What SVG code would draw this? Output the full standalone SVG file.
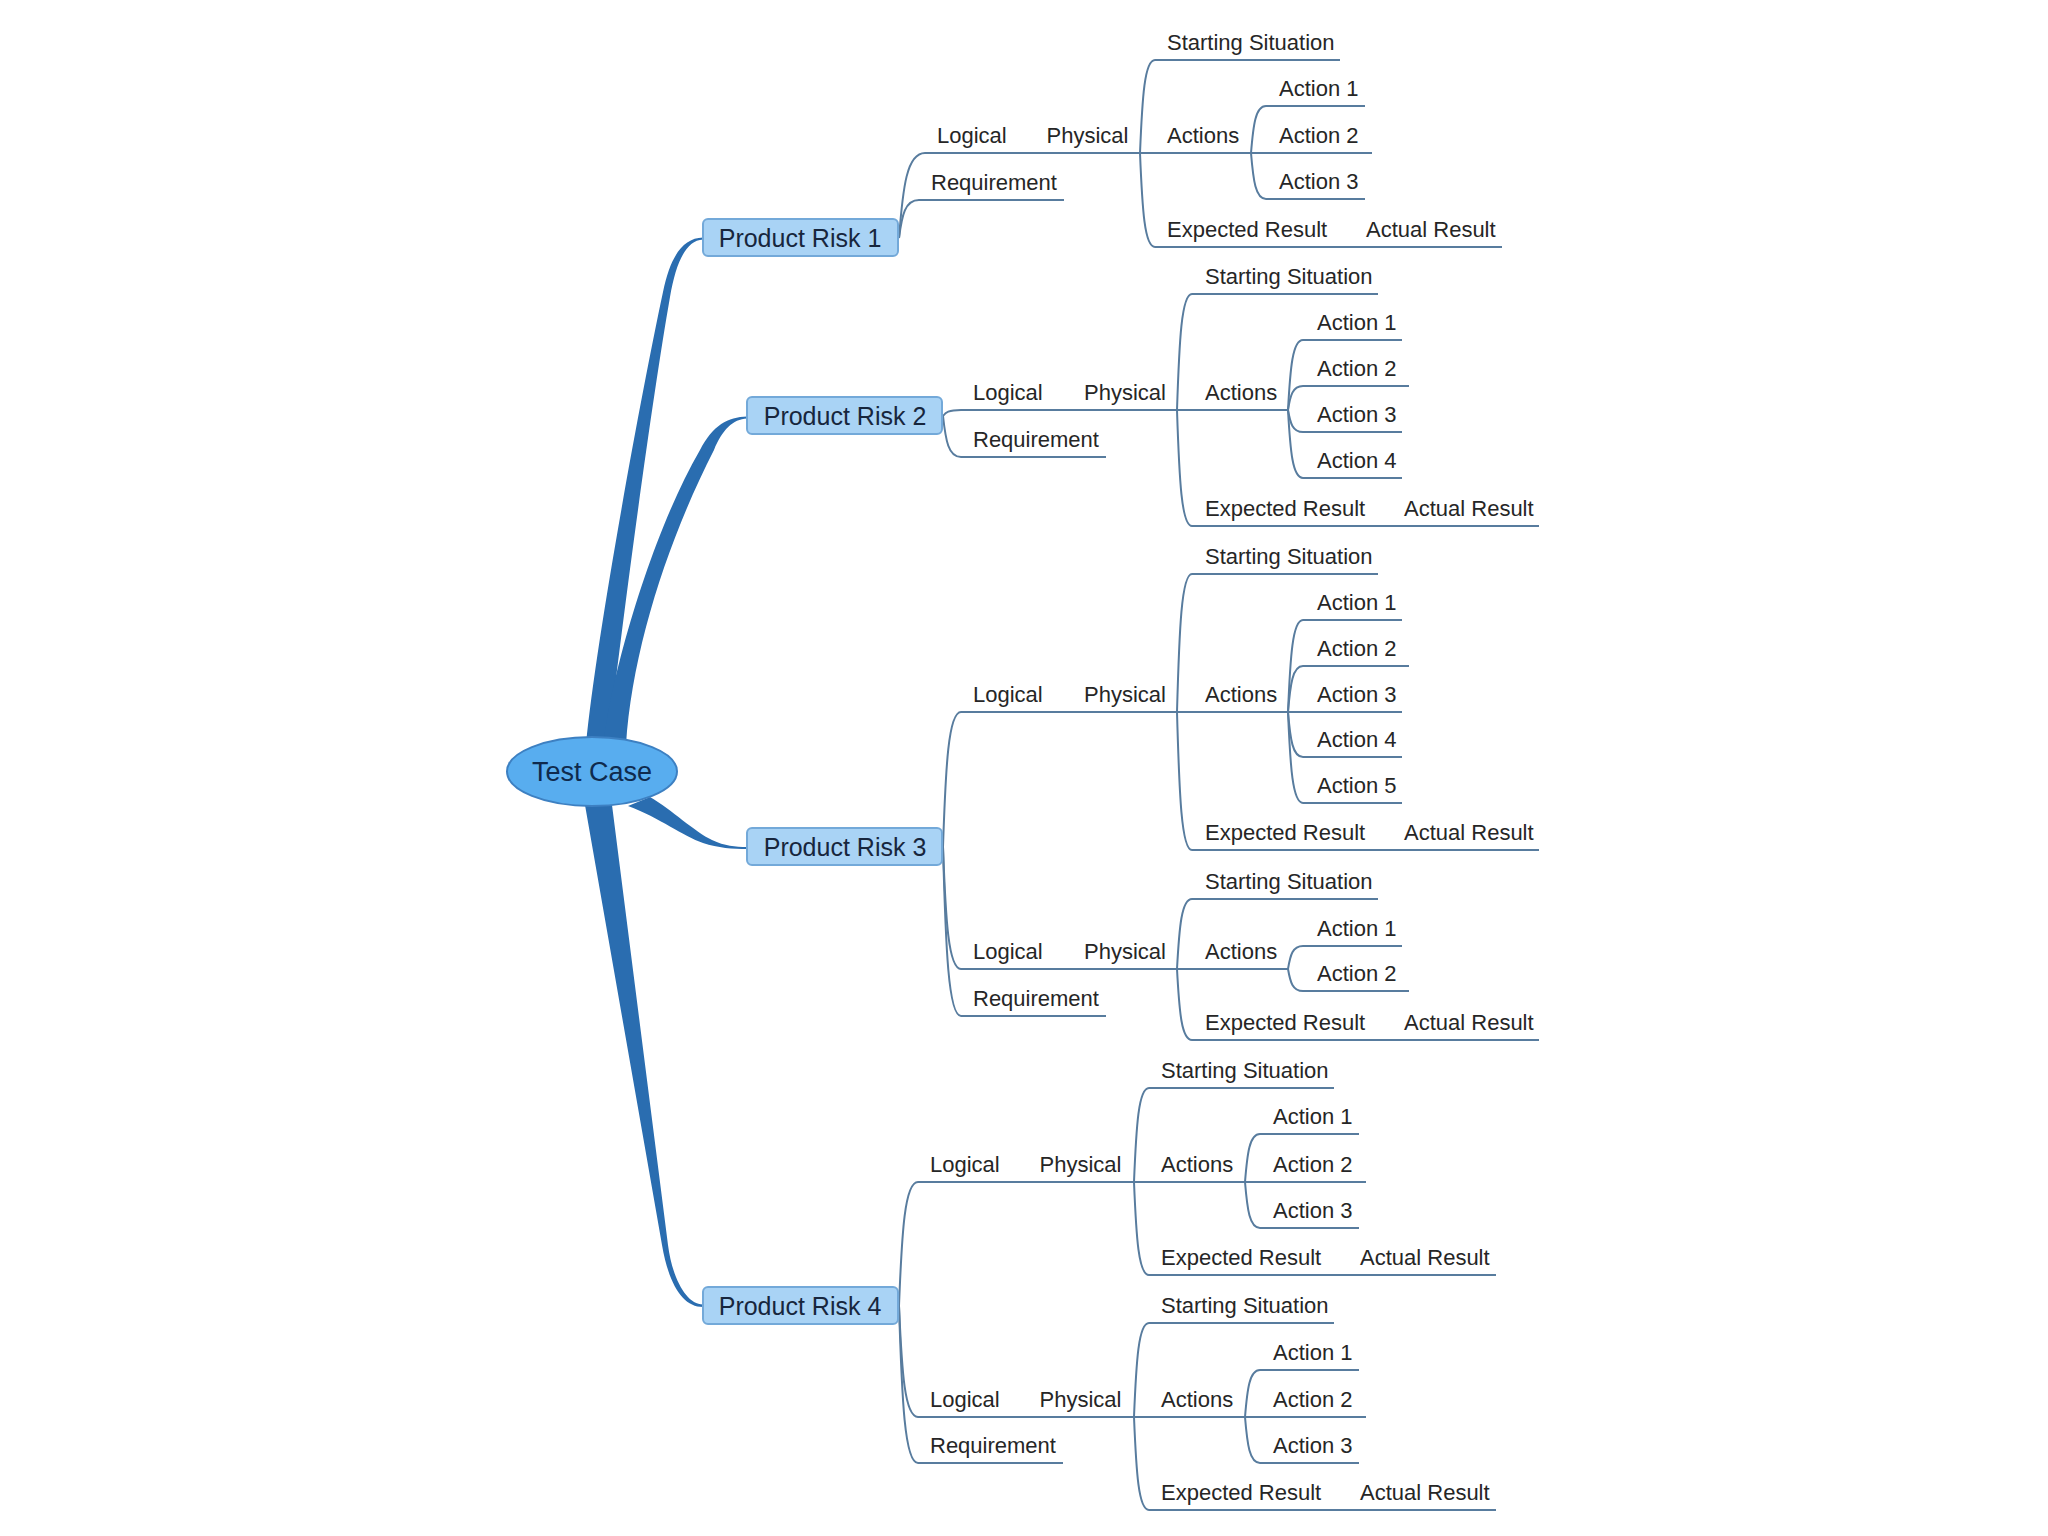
<svg xmlns="http://www.w3.org/2000/svg" width="2048" height="1536" viewBox="0 0 2048 1536">
<style>
.lbl{font-family:"Liberation Sans",Arial,Helvetica,sans-serif;font-size:22px;fill:#262626}
.ul{stroke:#587c9e;stroke-width:2;fill:none}
.cn{stroke:#587c9e;stroke-width:2;fill:none}
.br{fill:#2a6db0;stroke:none}
.box{fill:#a9d3f5;stroke:#73a9d9;stroke-width:2}
.boxt{font-family:"Liberation Sans",Arial,Helvetica,sans-serif;font-size:25px;fill:#17263d;text-anchor:middle}
.root{fill:#58adef;stroke:#3d80c2;stroke-width:2}
.roott{font-family:"Liberation Sans",Arial,Helvetica,sans-serif;font-size:27px;fill:#0f2a4d;text-anchor:middle}
</style>
<rect width="2048" height="1536" fill="#ffffff"/>
<g id="connectors">
  <g id="main-branches">
    <path class="br" d="M586 745 C596 640 640 400 663 292 C670 258 682 238 703 237.5 L703 239.5 C686 240.5 676 262 670 297 C652 400 625 600 608 745 Z"/>
    <path class="br" d="M604 745 C606 700 645 545 700 450 C713 425 728 417 747 416.5 L747 418.5 C733 419 722 430 714 450 C668 540 632 650 626 745 Z"/>
    <path class="br" d="M650 797 C672 810 695 832 712 840 C725 846 735 847 747 847 L747 849 C733 849 718 848 703 843 C683 836 660 818 628 806 Z"/>
    <path class="br" d="M585 805 L662 1245 C669 1285 683 1307 703 1307 L703 1304.5 C686 1304.5 672 1277 668 1245 L612 805 Z"/>
  </g>
  <g id="pr1-links">
    <path class="cn" d="M899 238 C902.9 187 906.8 153 925 153"/>
    <path class="cn" d="M899 238 C902 215.2 905 200 919 200"/>
    <path class="cn" d="M1140 153 C1142.3 97.2 1144.5 60 1155 60"/>
    <path class="cn" d="M1140 153 C1142.3 209.4 1144.5 247 1155 247"/>
    <path class="cn" d="M1251 153 C1253.3 124.8 1255.5 106 1266 106"/>
    <path class="cn" d="M1251 153 C1253.3 180.6 1255.5 199 1266 199"/>
  </g>
  <g id="pr2-links">
    <path class="cn" d="M943 416 C945.7 412.4 948.4 410 961 410"/>
    <path class="cn" d="M943 416 C945.7 440.6 948.4 457 961 457"/>
    <path class="cn" d="M1177 410 C1179.3 340.4 1181.5 294 1192 294"/>
    <path class="cn" d="M1177 410 C1179.3 479.6 1181.5 526 1192 526"/>
    <path class="cn" d="M1288 410 C1290.3 368 1292.5 340 1303 340"/>
    <path class="cn" d="M1288 410 C1290.3 395.6 1292.5 386 1303 386"/>
    <path class="cn" d="M1288 410 C1290.3 423.2 1292.5 432 1303 432"/>
    <path class="cn" d="M1288 410 C1290.3 450.8 1292.5 478 1303 478"/>
  </g>
  <g id="pr3-links">
    <path class="cn" d="M943 847 C945.7 766 948.4 712 961 712"/>
    <path class="cn" d="M943 847 C945.7 920.2 948.4 969 961 969"/>
    <path class="cn" d="M943 847 C945.7 948.4 948.4 1016 961 1016"/>
    <path class="cn" d="M1177 712 C1179.3 629.2 1181.5 574 1192 574"/>
    <path class="cn" d="M1177 712 C1179.3 794.8 1181.5 850 1192 850"/>
    <path class="cn" d="M1288 712 C1290.3 656.8 1292.5 620 1303 620"/>
    <path class="cn" d="M1288 712 C1290.3 684.4 1292.5 666 1303 666"/>
    <path class="cn" d="M1288 712 C1290.3 739 1292.5 757 1303 757"/>
    <path class="cn" d="M1288 712 C1290.3 766.6 1292.5 803 1303 803"/>
    <path class="cn" d="M1177 969 C1179.3 927 1181.5 899 1192 899"/>
    <path class="cn" d="M1177 969 C1179.3 1011.6 1181.5 1040 1192 1040"/>
    <path class="cn" d="M1288 969 C1290.3 955.2 1292.5 946 1303 946"/>
    <path class="cn" d="M1288 969 C1290.3 982.2 1292.5 991 1303 991"/>
  </g>
  <g id="pr4-links">
    <path class="cn" d="M899 1306 C901.9 1231.6 904.7 1182 918 1182"/>
    <path class="cn" d="M899 1306 C901.9 1372.6 904.7 1417 918 1417"/>
    <path class="cn" d="M899 1306 C901.9 1400.2 904.7 1463 918 1463"/>
    <path class="cn" d="M1134 1182 C1136.3 1125.6 1138.5 1088 1149 1088"/>
    <path class="cn" d="M1134 1182 C1136.3 1237.8 1138.5 1275 1149 1275"/>
    <path class="cn" d="M1245 1182 C1247.3 1153.2 1249.5 1134 1260 1134"/>
    <path class="cn" d="M1245 1182 C1247.3 1209.6 1249.5 1228 1260 1228"/>
    <path class="cn" d="M1134 1417 C1136.3 1360.6 1138.5 1323 1149 1323"/>
    <path class="cn" d="M1134 1417 C1136.3 1472.8 1138.5 1510 1149 1510"/>
    <path class="cn" d="M1245 1417 C1247.3 1388.8 1249.5 1370 1260 1370"/>
    <path class="cn" d="M1245 1417 C1247.3 1444.6 1249.5 1463 1260 1463"/>
  </g>
</g>

<g id="test-case"><ellipse class="root" cx="592" cy="771.5" rx="85" ry="34.5"/><text class="roott" x="592" y="781">Test Case</text></g>

<g id="product-risk-1"><rect class="box" x="703" y="219" width="195" height="37" rx="5"/><text class="boxt" x="800" y="246.5">Product Risk 1</text></g>
<g id="product-risk-2"><rect class="box" x="747" y="397" width="195" height="37" rx="5"/><text class="boxt" x="845" y="424.5">Product Risk 2</text></g>
<g id="product-risk-3"><rect class="box" x="747" y="828" width="195" height="37" rx="5"/><text class="boxt" x="845" y="855.5">Product Risk 3</text></g>
<g id="product-risk-4"><rect class="box" x="703" y="1287" width="195" height="37" rx="5"/><text class="boxt" x="800" y="1314.5">Product Risk 4</text></g>

<!-- PR1 -->
<g id="pr1-logical"><text class="lbl" x="937" y="143">Logical</text><path class="ul" d="M925 153 H1035"/></g>
<g id="pr1-physical"><text class="lbl" x="1046.5" y="143">Physical</text><path class="ul" d="M1035 153 H1140"/></g>
<g id="pr1-starting"><text class="lbl" x="1167" y="50">Starting Situation</text><path class="ul" d="M1155 60 H1340"/></g>
<g id="pr1-actions"><text class="lbl" x="1167" y="143">Actions</text><path class="ul" d="M1140 153 H1251"/></g>
<g id="pr1-action1"><text class="lbl" x="1279" y="96">Action 1</text><path class="ul" d="M1266 106 H1365"/></g>
<g id="pr1-action2"><text class="lbl" x="1279" y="143">Action 2</text><path class="ul" d="M1251 153 H1372"/></g>
<g id="pr1-action3"><text class="lbl" x="1279" y="189">Action 3</text><path class="ul" d="M1266 199 H1365"/></g>
<g id="pr1-expected"><text class="lbl" x="1167" y="237">Expected Result</text><path class="ul" d="M1155 247 H1352"/></g>
<g id="pr1-actual"><text class="lbl" x="1366" y="237">Actual Result</text><path class="ul" d="M1352 247 H1502"/></g>
<g id="pr1-requirement"><text class="lbl" x="931" y="190">Requirement</text><path class="ul" d="M919 200 H1064"/></g>

<!-- PR2 -->
<g id="pr2-logical"><text class="lbl" x="973" y="400">Logical</text><path class="ul" d="M961 410 H1071"/></g>
<g id="pr2-physical"><text class="lbl" x="1084" y="400">Physical</text><path class="ul" d="M1071 410 H1177"/></g>
<g id="pr2-starting"><text class="lbl" x="1205" y="284">Starting Situation</text><path class="ul" d="M1192 294 H1378"/></g>
<g id="pr2-actions"><text class="lbl" x="1205" y="400">Actions</text><path class="ul" d="M1177 410 H1288"/></g>
<g id="pr2-action1"><text class="lbl" x="1317" y="330">Action 1</text><path class="ul" d="M1303 340 H1402"/></g>
<g id="pr2-action2"><text class="lbl" x="1317" y="376">Action 2</text><path class="ul" d="M1303 386 H1409"/></g>
<g id="pr2-action3"><text class="lbl" x="1317" y="422">Action 3</text><path class="ul" d="M1303 432 H1402"/></g>
<g id="pr2-action4"><text class="lbl" x="1317" y="468">Action 4</text><path class="ul" d="M1303 478 H1402"/></g>
<g id="pr2-expected"><text class="lbl" x="1205" y="516">Expected Result</text><path class="ul" d="M1192 526 H1390"/></g>
<g id="pr2-actual"><text class="lbl" x="1404" y="516">Actual Result</text><path class="ul" d="M1390 526 H1539"/></g>
<g id="pr2-requirement"><text class="lbl" x="973" y="447">Requirement</text><path class="ul" d="M961 457 H1106"/></g>

<!-- PR3 a -->
<g id="pr3a-logical"><text class="lbl" x="973" y="702">Logical</text><path class="ul" d="M961 712 H1071"/></g>
<g id="pr3a-physical"><text class="lbl" x="1084" y="702">Physical</text><path class="ul" d="M1071 712 H1177"/></g>
<g id="pr3a-starting"><text class="lbl" x="1205" y="564">Starting Situation</text><path class="ul" d="M1192 574 H1378"/></g>
<g id="pr3a-actions"><text class="lbl" x="1205" y="702">Actions</text><path class="ul" d="M1177 712 H1288"/></g>
<g id="pr3a-action1"><text class="lbl" x="1317" y="610">Action 1</text><path class="ul" d="M1303 620 H1402"/></g>
<g id="pr3a-action2"><text class="lbl" x="1317" y="656">Action 2</text><path class="ul" d="M1303 666 H1409"/></g>
<g id="pr3a-action3"><text class="lbl" x="1317" y="702">Action 3</text><path class="ul" d="M1288 712 H1402"/></g>
<g id="pr3a-action4"><text class="lbl" x="1317" y="747">Action 4</text><path class="ul" d="M1303 757 H1402"/></g>
<g id="pr3a-action5"><text class="lbl" x="1317" y="793">Action 5</text><path class="ul" d="M1303 803 H1402"/></g>
<g id="pr3a-expected"><text class="lbl" x="1205" y="840">Expected Result</text><path class="ul" d="M1192 850 H1390"/></g>
<g id="pr3a-actual"><text class="lbl" x="1404" y="840">Actual Result</text><path class="ul" d="M1390 850 H1539"/></g>
<!-- PR3 b -->
<g id="pr3b-logical"><text class="lbl" x="973" y="959">Logical</text><path class="ul" d="M961 969 H1071"/></g>
<g id="pr3b-physical"><text class="lbl" x="1084" y="959">Physical</text><path class="ul" d="M1071 969 H1177"/></g>
<g id="pr3b-starting"><text class="lbl" x="1205" y="889">Starting Situation</text><path class="ul" d="M1192 899 H1378"/></g>
<g id="pr3b-actions"><text class="lbl" x="1205" y="959">Actions</text><path class="ul" d="M1177 969 H1288"/></g>
<g id="pr3b-action1"><text class="lbl" x="1317" y="936">Action 1</text><path class="ul" d="M1303 946 H1402"/></g>
<g id="pr3b-action2"><text class="lbl" x="1317" y="981">Action 2</text><path class="ul" d="M1303 991 H1409"/></g>
<g id="pr3b-expected"><text class="lbl" x="1205" y="1030">Expected Result</text><path class="ul" d="M1192 1040 H1390"/></g>
<g id="pr3b-actual"><text class="lbl" x="1404" y="1030">Actual Result</text><path class="ul" d="M1390 1040 H1539"/></g>
<g id="pr3-requirement"><text class="lbl" x="973" y="1006">Requirement</text><path class="ul" d="M961 1016 H1106"/></g>

<!-- PR4 a -->
<g id="pr4a-logical"><text class="lbl" x="930" y="1172">Logical</text><path class="ul" d="M918 1182 H1028"/></g>
<g id="pr4a-physical"><text class="lbl" x="1039.5" y="1172">Physical</text><path class="ul" d="M1028 1182 H1134"/></g>
<g id="pr4a-starting"><text class="lbl" x="1161" y="1078">Starting Situation</text><path class="ul" d="M1149 1088 H1334"/></g>
<g id="pr4a-actions"><text class="lbl" x="1161" y="1172">Actions</text><path class="ul" d="M1134 1182 H1245"/></g>
<g id="pr4a-action1"><text class="lbl" x="1273" y="1124">Action 1</text><path class="ul" d="M1260 1134 H1359"/></g>
<g id="pr4a-action2"><text class="lbl" x="1273" y="1172">Action 2</text><path class="ul" d="M1245 1182 H1366"/></g>
<g id="pr4a-action3"><text class="lbl" x="1273" y="1218">Action 3</text><path class="ul" d="M1260 1228 H1359"/></g>
<g id="pr4a-expected"><text class="lbl" x="1161" y="1265">Expected Result</text><path class="ul" d="M1149 1275 H1346"/></g>
<g id="pr4a-actual"><text class="lbl" x="1360" y="1265">Actual Result</text><path class="ul" d="M1346 1275 H1496"/></g>
<!-- PR4 b -->
<g id="pr4b-logical"><text class="lbl" x="930" y="1407">Logical</text><path class="ul" d="M918 1417 H1028"/></g>
<g id="pr4b-physical"><text class="lbl" x="1039.5" y="1407">Physical</text><path class="ul" d="M1028 1417 H1134"/></g>
<g id="pr4b-starting"><text class="lbl" x="1161" y="1313">Starting Situation</text><path class="ul" d="M1149 1323 H1334"/></g>
<g id="pr4b-actions"><text class="lbl" x="1161" y="1407">Actions</text><path class="ul" d="M1134 1417 H1245"/></g>
<g id="pr4b-action1"><text class="lbl" x="1273" y="1360">Action 1</text><path class="ul" d="M1260 1370 H1359"/></g>
<g id="pr4b-action2"><text class="lbl" x="1273" y="1407">Action 2</text><path class="ul" d="M1245 1417 H1366"/></g>
<g id="pr4b-action3"><text class="lbl" x="1273" y="1453">Action 3</text><path class="ul" d="M1260 1463 H1359"/></g>
<g id="pr4b-expected"><text class="lbl" x="1161" y="1500">Expected Result</text><path class="ul" d="M1149 1510 H1346"/></g>
<g id="pr4b-actual"><text class="lbl" x="1360" y="1500">Actual Result</text><path class="ul" d="M1346 1510 H1496"/></g>
<g id="pr4-requirement"><text class="lbl" x="930" y="1453">Requirement</text><path class="ul" d="M918 1463 H1063"/></g>
</svg>
